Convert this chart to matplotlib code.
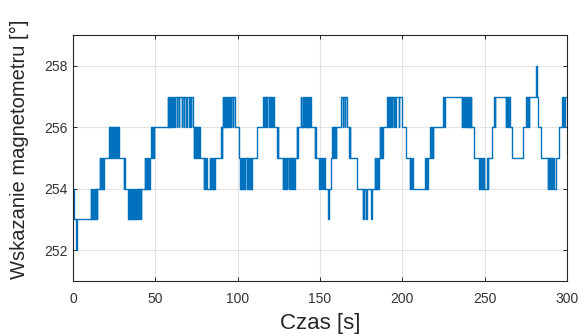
import matplotlib
matplotlib.use('Agg')
import matplotlib.pyplot as plt

plt.rcParams['font.family'] = ['Liberation Sans', 'DejaVu Sans']

# chwile zmian odczytu [s] i odczyt magnetometru [deg] (wykres schodkowy)
czas = [
    0.0, 0.6, 2.0, 2.5,
    10.7, 11.0, 11.3, 11.6, 11.9, 12.2, 12.5, 12.8, 13.4, 13.8, 14.2, 14.5, 14.8,
    16.2, 16.5, 16.8, 17.1, 17.4, 17.7, 18.0, 18.3, 18.7,
    22.0, 22.3, 22.6, 22.9, 23.2, 23.5, 23.8, 24.1, 24.4, 24.7,
    25.0, 25.3, 25.6, 25.9, 26.2, 26.5, 26.8, 27.1, 27.4, 27.7,
    30.8, 31.2, 31.5,
    33.5, 33.8, 34.1, 34.4, 34.7, 35.0, 35.3, 35.6, 35.9, 36.2, 36.5, 36.8, 37.1, 37.4,
    37.7, 38.0, 38.3, 38.6, 38.9, 39.2, 39.5, 39.8, 40.1, 40.4, 40.7, 41.0, 41.3, 41.6,
    43.5, 43.8, 44.1, 44.4, 44.7, 45.0, 45.3, 45.6, 45.9, 46.2, 46.5, 46.8, 47.0,
    47.6, 47.9, 48.2, 48.5, 48.8, 49.1, 49.4,
    57.7, 58.0, 58.3, 58.6, 58.9, 59.2, 59.5, 59.8, 60.1, 60.4, 60.7,
    61.5, 61.8, 63.0, 63.3, 64.3, 64.6, 66.0, 66.3, 67.4, 67.7,
    68.9, 69.2, 70.5, 70.8, 71.6, 71.9, 72.7,
    73.3, 73.6, 73.9, 74.2, 74.5, 74.8, 75.1, 75.4, 75.7, 76.0, 76.3, 76.6, 76.9,
    79.3, 79.7, 80.3, 80.7, 81.3,
    83.0, 83.3, 83.6, 83.9, 84.2, 84.5, 84.8, 85.1, 85.4, 85.7, 86.0,
    90.0, 90.4, 90.8,
    91.0, 91.3, 91.6, 91.9, 92.2, 92.5, 92.8, 93.1, 93.4, 93.7, 94.0, 94.3, 94.6, 94.9, 95.2,
    96.0, 96.3, 97.2, 97.5, 98.6,
    100.6, 101.7, 102.0, 102.3, 102.6, 102.9, 103.2, 103.5, 103.8, 104.1, 104.4,
    105.5, 105.8, 106.5, 106.8, 107.1, 107.4, 107.7, 108.0, 108.3, 108.6,
    111.8, 115.6, 115.9, 116.2, 116.5, 116.8, 117.1, 117.4, 117.7, 118.0,
    119.2, 119.5, 120.2, 120.5, 121.2, 121.5, 122.2,
    124.0, 124.3, 124.6, 127.3, 127.6, 128.2, 128.5, 129.0, 129.3, 130.0, 130.3,
    131.0, 131.3, 131.6, 131.9, 132.2, 132.5, 132.8, 133.1, 133.4, 134.0, 134.3, 134.6,
    136.0, 136.3, 136.6, 138.4, 138.7, 139.5, 139.8, 140.5, 140.8,
    141.5, 141.8, 142.1, 142.4, 142.7, 143.0, 143.3, 143.6, 143.9, 144.5,
    147.0, 147.3, 147.6, 149.6, 150.3, 150.8, 151.4, 151.9, 152.4, 152.8, 155.0, 155.3,
    157.0, 157.6, 157.9, 158.2, 158.5, 158.8, 159.1, 159.4, 159.7, 160.0,
    163.0, 164.0, 164.3, 165.0, 165.3, 166.3, 167.8, 168.1, 168.4, 172.3,
    176.0, 176.3, 176.7, 177.0, 178.3, 178.6, 181.3, 181.6,
    183.3, 183.6, 183.9, 184.2, 184.5, 184.8, 185.1, 185.4, 185.7,
    186.4, 186.7, 187.0, 187.3, 187.6, 188.0, 188.4,
    190.8, 191.1, 191.4, 191.7, 192.0, 192.3, 192.6, 192.9, 193.2, 193.5, 193.8,
    194.8, 195.1, 195.8, 196.1, 197.8, 198.1, 199.9,
    202.0, 202.3, 202.6, 204.7, 205.0, 205.5, 206.0, 206.3,
    213.9, 214.4, 215.0, 215.3, 215.6,
    217.0, 217.3, 218.2, 218.5, 218.8, 224.9, 225.5, 226.0,
    236.2, 236.5, 237.2, 237.5, 238.3, 238.6, 238.9, 239.2, 239.5,
    239.8, 240.1, 240.4, 240.7, 241.0, 241.3, 241.6, 242.0,
    243.5, 246.9, 247.2, 247.5, 247.8, 248.1, 248.4, 248.7, 249.0, 249.3, 249.6, 249.9,
    251.8, 252.1, 252.4,
    254.8, 256.0, 256.3, 256.6, 262.8, 263.1, 263.5, 263.8, 264.2, 264.5, 264.8, 265.1, 265.4, 266.5,
    273.6, 275.4, 275.7, 276.0, 276.3, 276.6, 276.9, 277.2, 281.1, 281.7, 282.4, 284.0,
    288.3, 288.6, 288.9, 289.2, 289.5, 289.8, 290.1, 290.4, 290.7, 291.0, 291.3, 291.6, 291.9, 292.2, 292.5,
    293.3, 295.3, 297.0, 297.5, 297.8, 298.3, 298.6, 300.0,
]
odczyt = [
    254, 253, 252, 253,
    254, 253, 254, 253, 254, 253, 254, 253, 254, 253, 254, 253, 254,
    255, 254, 255, 254, 255, 254, 255, 254, 255,
    256, 255, 256, 255, 256, 255, 256, 255, 256, 255,
    256, 255, 256, 255, 256, 255, 256, 255, 256, 255,
    254, 255, 254,
    253, 254, 253, 254, 253, 254, 253, 254, 253, 254, 253, 254, 253, 254,
    253, 254, 253, 254, 253, 254, 253, 254, 253, 254, 253, 254, 253, 254,
    255, 254, 255, 254, 255, 254, 255, 254, 255, 254, 255, 254, 255,
    256, 255, 256, 255, 256, 255, 256,
    257, 256, 257, 256, 257, 256, 257, 256, 257, 256, 257,
    256, 257, 256, 257, 256, 257, 256, 257, 256, 257,
    256, 257, 256, 257, 256, 257, 256,
    255, 256, 255, 256, 255, 256, 255, 256, 255, 256, 255, 256, 255,
    254, 255, 254, 255, 254,
    255, 254, 255, 254, 255, 254, 255, 254, 255, 254, 255,
    256, 255, 256,
    257, 256, 257, 256, 257, 256, 257, 256, 257, 256, 257, 256, 257, 256, 257,
    256, 257, 256, 257, 256,
    255, 254, 255, 254, 255, 254, 255, 254, 255, 254, 255,
    254, 255, 254, 255, 254, 255, 254, 255, 254, 255,
    256, 257, 256, 257, 256, 257, 256, 257, 256, 257,
    256, 257, 256, 257, 256, 257, 256,
    255, 256, 255, 254, 255, 254, 255, 254, 255, 254, 255,
    254, 255, 254, 255, 254, 255, 254, 255, 254, 255, 254, 255,
    256, 255, 256, 257, 256, 257, 256, 257, 256,
    257, 256, 257, 256, 257, 256, 257, 256, 257, 256,
    255, 256, 255, 254, 255, 254, 255, 254, 255, 254, 253, 254,
    255, 256, 255, 256, 255, 256, 255, 256, 255, 256,
    257, 256, 257, 256, 257, 256, 255, 256, 255, 254,
    253, 254, 253, 254, 253, 254, 253, 254,
    255, 254, 255, 254, 255, 254, 255, 254, 255,
    256, 255, 256, 255, 256, 255, 256,
    257, 256, 257, 256, 257, 256, 257, 256, 257, 256, 257,
    256, 257, 256, 257, 256, 257, 256,
    255, 256, 255, 254, 255, 254, 255, 254,
    255, 254, 255, 254, 255,
    256, 255, 256, 255, 256, 257, 256, 257,
    256, 257, 256, 257, 256, 257, 256, 257, 256,
    257, 256, 257, 256, 257, 256, 257, 256,
    255, 254, 255, 254, 255, 254, 255, 254, 255, 254, 255, 254,
    255, 254, 255,
    256, 257, 256, 257, 256, 257, 256, 257, 256, 257, 256, 257, 256, 255,
    256, 257, 256, 257, 256, 257, 256, 257, 258, 257, 256, 255,
    254, 255, 254, 255, 254, 255, 254, 255, 254, 255, 254, 255, 254, 255, 254,
    255, 256, 257, 256, 257, 256, 257, 257,
]

x_ticks = [0, 50, 100, 150, 200, 250, 300]
y_ticks = [252, 254, 256, 258]

fig = plt.figure(figsize=(5.79, 3.34), dpi=100)
ax = fig.add_axes([0.126, 0.159, 0.853, 0.736])

ax.plot(czas, odczyt, drawstyle='steps-post', color='#0072BD', lw=1.0)

ax.set_xlim(0, 300)
ax.set_ylim(251, 259)
ax.set_xticks(x_ticks)
ax.set_yticks(y_ticks)
ax.grid(True, color='#E3E3E3', lw=0.8)
ax.set_axisbelow(True)
ax.tick_params(direction='in', top=True, right=True, length=3, width=0.7,
               color='#262626', labelcolor='#333333', labelsize=10)
ax.tick_params(axis='x', pad=8)
for s in ax.spines.values():
    s.set_color('#262626')
    s.set_linewidth(0.8)

ax.set_xlabel('Czas [s]', fontsize=16, color='#262626', labelpad=5)
ax.set_ylabel('Wskazanie magnetometru [°]', fontsize=14.5, color='#262626')
ax.yaxis.set_label_coords(-0.09, 0.535)

fig.savefig('out.png', dpi=100)
